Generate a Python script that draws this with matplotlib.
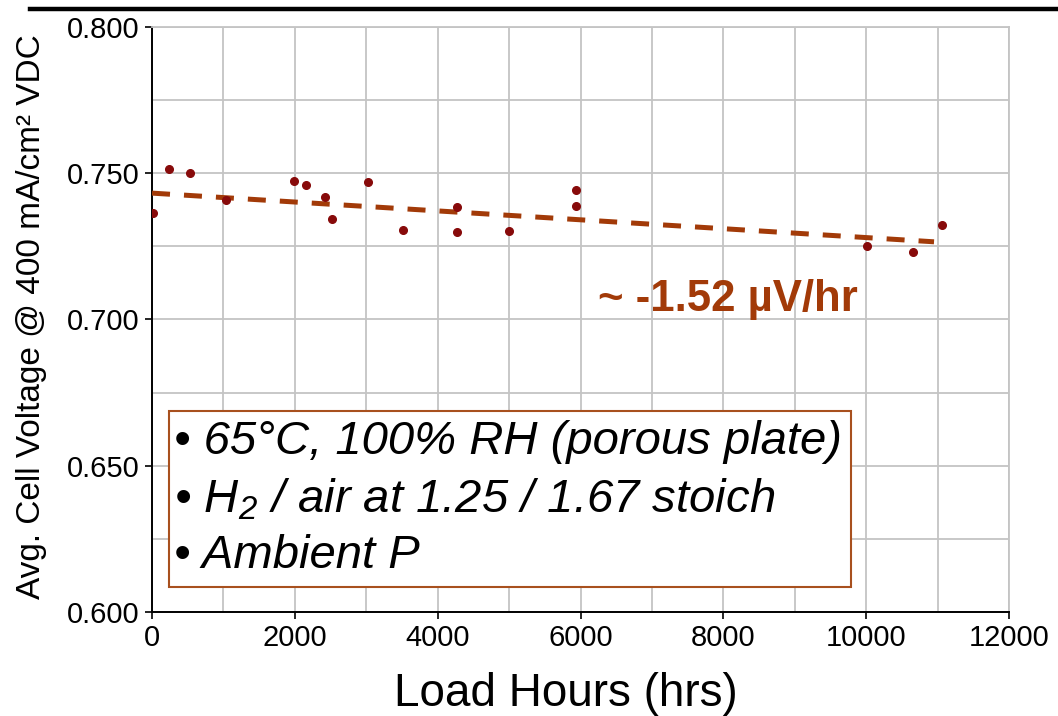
import numpy as np
import matplotlib
matplotlib.use("Agg")
import matplotlib.pyplot as plt
from matplotlib.patches import Rectangle
from matplotlib.lines import Line2D

plt.rcParams['font.family'] = ['Liberation Sans', 'DejaVu Sans']
plt.rcParams['mathtext.fontset'] = 'custom'
plt.rcParams['mathtext.rm'] = 'Liberation Sans:italic'
plt.rcParams['mathtext.it'] = 'Liberation Sans:italic'

# load hours vs. average cell voltage at 400 mA/cm2
hours = [18, 242, 532, 1036, 1989, 2157, 2423, 2525, 3021, 3515,
         4267, 4267, 4996, 5938, 5938, 10014, 10655, 11064]
voltage = [0.7363, 0.7515, 0.7500, 0.7409, 0.7473, 0.7460, 0.7418, 0.7344, 0.7471, 0.7306,
           0.7384, 0.7299, 0.7302, 0.7444, 0.7388, 0.7252, 0.7232, 0.7323]

# decay trend
slope_uv_per_hr = -1.52
intercept = 0.7432
trend_hours = np.array([0, 10950])
trend_v = intercept + slope_uv_per_hr * 1e-6 * trend_hours

notes = ["\u2022 65\u00b0C, 100% RH (porous plate)",
         "\u2022 H$_2$ / air at 1.25 / 1.67 stoich",
         "\u2022 Ambient P"]

trend_color = '#A23A08'
fig = plt.figure(figsize=(10.58, 7.16), dpi=100)
ax = fig.add_axes([0.1437, 0.1453, 0.81, 0.8170])

ax.plot(trend_hours, trend_v, color=trend_color, lw=3.6, dashes=(3.6, 2.8), zorder=3)
ax.plot(hours, voltage, 'o', color='#870A0A', ms=5.5, zorder=4)

ax.set_xlim(0, 12000)
ax.set_ylim(0.6, 0.8)
ax.set_xticks(np.arange(0, 12001, 2000))
ax.set_xticks(np.arange(0, 12001, 1000), minor=True)
ax.set_yticks(np.arange(0.6, 0.8001, 0.05))
ax.set_yticks(np.arange(0.6, 0.8001, 0.025), minor=True)
ax.yaxis.set_major_formatter(matplotlib.ticker.FormatStrFormatter('%.3f'))
ax.grid(which='both', color='#C4C4C4', lw=1.3)
ax.set_axisbelow(True)
ax.tick_params(which='major', labelsize=21, length=5, width=1.2, direction='out', pad=4)
ax.tick_params(which='minor', length=0)
for side in ['top', 'right']:
    ax.spines[side].set_color('#C4C4C4')
    ax.spines[side].set_linewidth(1.3)
for side in ['left', 'bottom']:
    ax.spines[side].set_linewidth(1.4)

ax.set_xlabel("Load Hours (hrs)", fontsize=33)
ax.xaxis.set_label_coords(0.483, -0.103)
ax.set_ylabel("Avg. Cell Voltage @ 400 mA/cm\u00b2 VDC", fontsize=24)
ax.yaxis.set_label_coords(-0.1225, 0.505)

ax.text(8067, 0.7067, "~ -1.52 \u00b5V/hr", color=trend_color, fontsize=31.5,
        fontweight='bold', ha='center', va='center')

# conditions box
ax.add_patch(Rectangle((0.0198, 0.0427), 0.7958, 0.3009, transform=ax.transAxes,
                       facecolor='white', edgecolor='#A8501E', lw=1.5, zorder=5))
for note, yy in zip(notes, [0.2906, 0.1915, 0.0957]):
    ax.text(0.0257, yy, note, transform=ax.transAxes, fontsize=34, style='italic',
            ha='left', va='center', zorder=6)

# rule across the top
fig.add_artist(Line2D([30 / 1058, 1.0], [1 - 9 / 716, 1 - 9 / 716], color='black', lw=3.2))

fig.savefig("out.png", dpi=100)
